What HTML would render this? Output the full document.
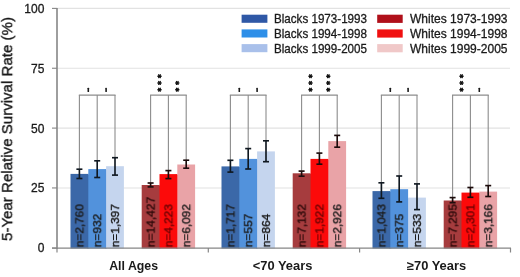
<!DOCTYPE html>
<html><head><meta charset="utf-8"><style>html,body{margin:0;padding:0;background:#fff;width:520px;height:277px;overflow:hidden}</style></head>
<body>
<svg width="520" height="277" viewBox="0 0 520 277" style="display:block">
<rect width="520" height="277" fill="#fff"/>
<line x1="57" y1="187.95" x2="510" y2="187.95" stroke="#e2e2e2" stroke-width="1.1"/>
<line x1="57" y1="128.1" x2="510" y2="128.1" stroke="#e2e2e2" stroke-width="1.1"/>
<line x1="57" y1="68.25" x2="510" y2="68.25" stroke="#e2e2e2" stroke-width="1.1"/>
<line x1="57" y1="8.4" x2="510" y2="8.4" stroke="#e2e2e2" stroke-width="1.1"/>
<rect x="70.50" y="173.9" width="17.8" height="74.60" fill="#3b68a8"/>
<rect x="87.30" y="174.50" width="2" height="74.00" fill="#3b68a8"/>
<rect x="88.30" y="169.1" width="17.8" height="79.40" fill="#5292dc"/>
<rect x="105.10" y="169.70" width="2" height="78.80" fill="#5292dc"/>
<rect x="106.10" y="166.2" width="17.8" height="82.30" fill="#c5d5ee"/>
<rect x="141.70" y="185.0" width="17.8" height="63.50" fill="#a63c3e"/>
<rect x="158.50" y="185.60" width="2" height="62.90" fill="#a63c3e"/>
<rect x="159.50" y="174.1" width="17.8" height="74.40" fill="#fc0a0a"/>
<rect x="176.30" y="174.70" width="2" height="73.80" fill="#fc0a0a"/>
<rect x="177.30" y="164.5" width="17.8" height="84.00" fill="#e9a3a7"/>
<rect x="221.50" y="166.4" width="17.8" height="82.10" fill="#3b68a8"/>
<rect x="238.30" y="167.00" width="2" height="81.50" fill="#3b68a8"/>
<rect x="239.30" y="158.9" width="17.8" height="89.60" fill="#5292dc"/>
<rect x="256.10" y="159.50" width="2" height="89.00" fill="#5292dc"/>
<rect x="257.10" y="151.4" width="17.8" height="97.10" fill="#c5d5ee"/>
<rect x="292.70" y="173.3" width="17.8" height="75.20" fill="#a63c3e"/>
<rect x="309.50" y="173.90" width="2" height="74.60" fill="#a63c3e"/>
<rect x="310.50" y="158.9" width="17.8" height="89.60" fill="#fc0a0a"/>
<rect x="327.30" y="159.50" width="2" height="89.00" fill="#fc0a0a"/>
<rect x="328.30" y="141.1" width="17.8" height="107.40" fill="#e9a3a7"/>
<rect x="372.50" y="191.1" width="17.8" height="57.40" fill="#3b68a8"/>
<rect x="389.30" y="191.70" width="2" height="56.80" fill="#3b68a8"/>
<rect x="390.30" y="189.2" width="17.8" height="59.30" fill="#5292dc"/>
<rect x="407.10" y="198.20" width="2" height="50.30" fill="#5292dc"/>
<rect x="408.10" y="197.6" width="17.8" height="50.90" fill="#c5d5ee"/>
<rect x="443.70" y="200.5" width="17.8" height="48.00" fill="#a63c3e"/>
<rect x="460.50" y="201.10" width="2" height="47.40" fill="#a63c3e"/>
<rect x="461.50" y="192.6" width="17.8" height="55.90" fill="#fc0a0a"/>
<rect x="478.30" y="193.20" width="2" height="55.30" fill="#fc0a0a"/>
<rect x="479.30" y="191.6" width="17.8" height="56.90" fill="#e9a3a7"/>
<text style="will-change:transform" transform="translate(83.40,247.2) rotate(-90)" font-family='"Liberation Sans", sans-serif' font-size="11.4" fill="#1a1a1a" stroke="#1a1a1a" stroke-width="0.4" textLength="43.0" lengthAdjust="spacingAndGlyphs">n=2,760</text>
<text style="will-change:transform" transform="translate(101.20,247.2) rotate(-90)" font-family='"Liberation Sans", sans-serif' font-size="11.4" fill="#1a1a1a" stroke="#1a1a1a" stroke-width="0.4" textLength="33.4" lengthAdjust="spacingAndGlyphs">n=932</text>
<text style="will-change:transform" transform="translate(119.00,247.2) rotate(-90)" font-family='"Liberation Sans", sans-serif' font-size="11.4" fill="#1a1a1a" stroke="#1a1a1a" stroke-width="0.4" textLength="43.0" lengthAdjust="spacingAndGlyphs">n=1,397</text>
<text style="will-change:transform" transform="translate(154.60,247.2) rotate(-90)" font-family='"Liberation Sans", sans-serif' font-size="11.4" fill="#2a0808" stroke="#2a0808" stroke-width="0.4" textLength="50.4" lengthAdjust="spacingAndGlyphs">n=14,427</text>
<text style="will-change:transform" transform="translate(172.40,247.2) rotate(-90)" font-family='"Liberation Sans", sans-serif' font-size="11.4" fill="#6a0000" stroke="#6a0000" stroke-width="0.4" textLength="43.0" lengthAdjust="spacingAndGlyphs">n=4,223</text>
<text style="will-change:transform" transform="translate(190.20,247.2) rotate(-90)" font-family='"Liberation Sans", sans-serif' font-size="11.4" fill="#1a1a1a" stroke="#1a1a1a" stroke-width="0.4" textLength="43.0" lengthAdjust="spacingAndGlyphs">n=6,092</text>
<text style="will-change:transform" transform="translate(234.40,247.2) rotate(-90)" font-family='"Liberation Sans", sans-serif' font-size="11.4" fill="#1a1a1a" stroke="#1a1a1a" stroke-width="0.4" textLength="43.0" lengthAdjust="spacingAndGlyphs">n=1,717</text>
<text style="will-change:transform" transform="translate(252.20,247.2) rotate(-90)" font-family='"Liberation Sans", sans-serif' font-size="11.4" fill="#1a1a1a" stroke="#1a1a1a" stroke-width="0.4" textLength="33.4" lengthAdjust="spacingAndGlyphs">n=557</text>
<text style="will-change:transform" transform="translate(270.00,247.2) rotate(-90)" font-family='"Liberation Sans", sans-serif' font-size="11.4" fill="#1a1a1a" stroke="#1a1a1a" stroke-width="0.4" textLength="33.4" lengthAdjust="spacingAndGlyphs">n=864</text>
<text style="will-change:transform" transform="translate(305.60,247.2) rotate(-90)" font-family='"Liberation Sans", sans-serif' font-size="11.4" fill="#2a0808" stroke="#2a0808" stroke-width="0.4" textLength="43.0" lengthAdjust="spacingAndGlyphs">n=7,132</text>
<text style="will-change:transform" transform="translate(323.40,247.2) rotate(-90)" font-family='"Liberation Sans", sans-serif' font-size="11.4" fill="#6a0000" stroke="#6a0000" stroke-width="0.4" textLength="43.0" lengthAdjust="spacingAndGlyphs">n=1,922</text>
<text style="will-change:transform" transform="translate(341.20,247.2) rotate(-90)" font-family='"Liberation Sans", sans-serif' font-size="11.4" fill="#1a1a1a" stroke="#1a1a1a" stroke-width="0.4" textLength="43.0" lengthAdjust="spacingAndGlyphs">n=2,926</text>
<text style="will-change:transform" transform="translate(385.40,247.2) rotate(-90)" font-family='"Liberation Sans", sans-serif' font-size="11.4" fill="#1a1a1a" stroke="#1a1a1a" stroke-width="0.4" textLength="43.0" lengthAdjust="spacingAndGlyphs">n=1,043</text>
<text style="will-change:transform" transform="translate(403.20,247.2) rotate(-90)" font-family='"Liberation Sans", sans-serif' font-size="11.4" fill="#1a1a1a" stroke="#1a1a1a" stroke-width="0.4" textLength="33.4" lengthAdjust="spacingAndGlyphs">n=375</text>
<text style="will-change:transform" transform="translate(421.00,247.2) rotate(-90)" font-family='"Liberation Sans", sans-serif' font-size="11.4" fill="#1a1a1a" stroke="#1a1a1a" stroke-width="0.4" textLength="33.4" lengthAdjust="spacingAndGlyphs">n=533</text>
<text style="will-change:transform" transform="translate(456.60,247.2) rotate(-90)" font-family='"Liberation Sans", sans-serif' font-size="11.4" fill="#2a0808" stroke="#2a0808" stroke-width="0.4" textLength="43.0" lengthAdjust="spacingAndGlyphs">n=7,295</text>
<text style="will-change:transform" transform="translate(474.40,247.2) rotate(-90)" font-family='"Liberation Sans", sans-serif' font-size="11.4" fill="#6a0000" stroke="#6a0000" stroke-width="0.4" textLength="43.0" lengthAdjust="spacingAndGlyphs">n=2,301</text>
<text style="will-change:transform" transform="translate(492.20,247.2) rotate(-90)" font-family='"Liberation Sans", sans-serif' font-size="11.4" fill="#1a1a1a" stroke="#1a1a1a" stroke-width="0.4" textLength="43.0" lengthAdjust="spacingAndGlyphs">n=3,166</text>
<line x1="79.40" y1="95.1" x2="79.40" y2="169.2" stroke="#8c8c8c" stroke-width="1.1"/>
<line x1="79.40" y1="169.2" x2="79.40" y2="178.5" stroke="#101820" stroke-width="1.65"/>
<line x1="76.40" y1="169.2" x2="82.40" y2="169.2" stroke="#101820" stroke-width="1.65"/>
<line x1="76.40" y1="178.5" x2="82.40" y2="178.5" stroke="#101820" stroke-width="1.65"/>
<line x1="97.20" y1="95.1" x2="97.20" y2="160.8" stroke="#8c8c8c" stroke-width="1.1"/>
<line x1="97.20" y1="160.8" x2="97.20" y2="177.5" stroke="#101820" stroke-width="1.65"/>
<line x1="94.20" y1="160.8" x2="100.20" y2="160.8" stroke="#101820" stroke-width="1.65"/>
<line x1="94.20" y1="177.5" x2="100.20" y2="177.5" stroke="#101820" stroke-width="1.65"/>
<line x1="115.00" y1="95.1" x2="115.00" y2="157.7" stroke="#8c8c8c" stroke-width="1.1"/>
<line x1="115.00" y1="157.7" x2="115.00" y2="175.1" stroke="#101820" stroke-width="1.65"/>
<line x1="112.00" y1="157.7" x2="118.00" y2="157.7" stroke="#101820" stroke-width="1.65"/>
<line x1="112.00" y1="175.1" x2="118.00" y2="175.1" stroke="#101820" stroke-width="1.65"/>
<line x1="78.85" y1="95.1" x2="115.55" y2="95.1" stroke="#8c8c8c" stroke-width="1.1"/>
<rect x="87.50" y="87.7" width="1.6" height="4.3" rx="0.6" fill="#1a1a1a"/>
<rect x="105.30" y="87.7" width="1.6" height="4.3" rx="0.6" fill="#1a1a1a"/>
<line x1="150.60" y1="95.1" x2="150.60" y2="183.0" stroke="#8c8c8c" stroke-width="1.1"/>
<line x1="150.60" y1="183.0" x2="150.60" y2="186.9" stroke="#1c0c0c" stroke-width="1.65"/>
<line x1="147.60" y1="183.0" x2="153.60" y2="183.0" stroke="#1c0c0c" stroke-width="1.65"/>
<line x1="147.60" y1="186.9" x2="153.60" y2="186.9" stroke="#1c0c0c" stroke-width="1.65"/>
<line x1="168.40" y1="95.1" x2="168.40" y2="170.6" stroke="#8c8c8c" stroke-width="1.1"/>
<line x1="168.40" y1="170.6" x2="168.40" y2="178.6" stroke="#1c0c0c" stroke-width="1.65"/>
<line x1="165.40" y1="170.6" x2="171.40" y2="170.6" stroke="#1c0c0c" stroke-width="1.65"/>
<line x1="165.40" y1="178.6" x2="171.40" y2="178.6" stroke="#1c0c0c" stroke-width="1.65"/>
<line x1="186.20" y1="95.1" x2="186.20" y2="160.2" stroke="#8c8c8c" stroke-width="1.1"/>
<line x1="186.20" y1="160.2" x2="186.20" y2="168.2" stroke="#1c0c0c" stroke-width="1.65"/>
<line x1="183.20" y1="160.2" x2="189.20" y2="160.2" stroke="#1c0c0c" stroke-width="1.65"/>
<line x1="183.20" y1="168.2" x2="189.20" y2="168.2" stroke="#1c0c0c" stroke-width="1.65"/>
<line x1="150.05" y1="95.1" x2="186.75" y2="95.1" stroke="#8c8c8c" stroke-width="1.1"/>
<line x1="157.90" y1="89.70" x2="161.10" y2="89.70" stroke="#111" stroke-width="1.35" stroke-linecap="round"/>
<line x1="158.70" y1="88.31" x2="160.30" y2="91.09" stroke="#111" stroke-width="1.35" stroke-linecap="round"/>
<line x1="160.30" y1="88.31" x2="158.70" y2="91.09" stroke="#111" stroke-width="1.35" stroke-linecap="round"/>
<line x1="157.90" y1="82.95" x2="161.10" y2="82.95" stroke="#111" stroke-width="1.35" stroke-linecap="round"/>
<line x1="158.70" y1="81.56" x2="160.30" y2="84.34" stroke="#111" stroke-width="1.35" stroke-linecap="round"/>
<line x1="160.30" y1="81.56" x2="158.70" y2="84.34" stroke="#111" stroke-width="1.35" stroke-linecap="round"/>
<line x1="157.90" y1="76.20" x2="161.10" y2="76.20" stroke="#111" stroke-width="1.35" stroke-linecap="round"/>
<line x1="158.70" y1="74.81" x2="160.30" y2="77.59" stroke="#111" stroke-width="1.35" stroke-linecap="round"/>
<line x1="160.30" y1="74.81" x2="158.70" y2="77.59" stroke="#111" stroke-width="1.35" stroke-linecap="round"/>
<line x1="175.70" y1="89.70" x2="178.90" y2="89.70" stroke="#111" stroke-width="1.35" stroke-linecap="round"/>
<line x1="176.50" y1="88.31" x2="178.10" y2="91.09" stroke="#111" stroke-width="1.35" stroke-linecap="round"/>
<line x1="178.10" y1="88.31" x2="176.50" y2="91.09" stroke="#111" stroke-width="1.35" stroke-linecap="round"/>
<line x1="175.70" y1="82.95" x2="178.90" y2="82.95" stroke="#111" stroke-width="1.35" stroke-linecap="round"/>
<line x1="176.50" y1="81.56" x2="178.10" y2="84.34" stroke="#111" stroke-width="1.35" stroke-linecap="round"/>
<line x1="178.10" y1="81.56" x2="176.50" y2="84.34" stroke="#111" stroke-width="1.35" stroke-linecap="round"/>
<line x1="230.40" y1="95.1" x2="230.40" y2="160.3" stroke="#8c8c8c" stroke-width="1.1"/>
<line x1="230.40" y1="160.3" x2="230.40" y2="172.1" stroke="#101820" stroke-width="1.65"/>
<line x1="227.40" y1="160.3" x2="233.40" y2="160.3" stroke="#101820" stroke-width="1.65"/>
<line x1="227.40" y1="172.1" x2="233.40" y2="172.1" stroke="#101820" stroke-width="1.65"/>
<line x1="248.20" y1="95.1" x2="248.20" y2="148.6" stroke="#8c8c8c" stroke-width="1.1"/>
<line x1="248.20" y1="148.6" x2="248.20" y2="169.0" stroke="#101820" stroke-width="1.65"/>
<line x1="245.20" y1="148.6" x2="251.20" y2="148.6" stroke="#101820" stroke-width="1.65"/>
<line x1="245.20" y1="169.0" x2="251.20" y2="169.0" stroke="#101820" stroke-width="1.65"/>
<line x1="266.00" y1="95.1" x2="266.00" y2="140.8" stroke="#8c8c8c" stroke-width="1.1"/>
<line x1="266.00" y1="140.8" x2="266.00" y2="161.7" stroke="#101820" stroke-width="1.65"/>
<line x1="263.00" y1="140.8" x2="269.00" y2="140.8" stroke="#101820" stroke-width="1.65"/>
<line x1="263.00" y1="161.7" x2="269.00" y2="161.7" stroke="#101820" stroke-width="1.65"/>
<line x1="229.85" y1="95.1" x2="266.55" y2="95.1" stroke="#8c8c8c" stroke-width="1.1"/>
<rect x="238.50" y="87.7" width="1.6" height="4.3" rx="0.6" fill="#1a1a1a"/>
<rect x="256.30" y="87.7" width="1.6" height="4.3" rx="0.6" fill="#1a1a1a"/>
<line x1="301.60" y1="95.1" x2="301.60" y2="171.1" stroke="#8c8c8c" stroke-width="1.1"/>
<line x1="301.60" y1="171.1" x2="301.60" y2="176.2" stroke="#1c0c0c" stroke-width="1.65"/>
<line x1="298.60" y1="171.1" x2="304.60" y2="171.1" stroke="#1c0c0c" stroke-width="1.65"/>
<line x1="298.60" y1="176.2" x2="304.60" y2="176.2" stroke="#1c0c0c" stroke-width="1.65"/>
<line x1="319.40" y1="95.1" x2="319.40" y2="153.1" stroke="#8c8c8c" stroke-width="1.1"/>
<line x1="319.40" y1="153.1" x2="319.40" y2="164.2" stroke="#1c0c0c" stroke-width="1.65"/>
<line x1="316.40" y1="153.1" x2="322.40" y2="153.1" stroke="#1c0c0c" stroke-width="1.65"/>
<line x1="316.40" y1="164.2" x2="322.40" y2="164.2" stroke="#1c0c0c" stroke-width="1.65"/>
<line x1="337.20" y1="95.1" x2="337.20" y2="135.4" stroke="#8c8c8c" stroke-width="1.1"/>
<line x1="337.20" y1="135.4" x2="337.20" y2="147.2" stroke="#1c0c0c" stroke-width="1.65"/>
<line x1="334.20" y1="135.4" x2="340.20" y2="135.4" stroke="#1c0c0c" stroke-width="1.65"/>
<line x1="334.20" y1="147.2" x2="340.20" y2="147.2" stroke="#1c0c0c" stroke-width="1.65"/>
<line x1="301.05" y1="95.1" x2="337.75" y2="95.1" stroke="#8c8c8c" stroke-width="1.1"/>
<line x1="308.90" y1="89.70" x2="312.10" y2="89.70" stroke="#111" stroke-width="1.35" stroke-linecap="round"/>
<line x1="309.70" y1="88.31" x2="311.30" y2="91.09" stroke="#111" stroke-width="1.35" stroke-linecap="round"/>
<line x1="311.30" y1="88.31" x2="309.70" y2="91.09" stroke="#111" stroke-width="1.35" stroke-linecap="round"/>
<line x1="308.90" y1="82.95" x2="312.10" y2="82.95" stroke="#111" stroke-width="1.35" stroke-linecap="round"/>
<line x1="309.70" y1="81.56" x2="311.30" y2="84.34" stroke="#111" stroke-width="1.35" stroke-linecap="round"/>
<line x1="311.30" y1="81.56" x2="309.70" y2="84.34" stroke="#111" stroke-width="1.35" stroke-linecap="round"/>
<line x1="308.90" y1="76.20" x2="312.10" y2="76.20" stroke="#111" stroke-width="1.35" stroke-linecap="round"/>
<line x1="309.70" y1="74.81" x2="311.30" y2="77.59" stroke="#111" stroke-width="1.35" stroke-linecap="round"/>
<line x1="311.30" y1="74.81" x2="309.70" y2="77.59" stroke="#111" stroke-width="1.35" stroke-linecap="round"/>
<line x1="326.70" y1="89.70" x2="329.90" y2="89.70" stroke="#111" stroke-width="1.35" stroke-linecap="round"/>
<line x1="327.50" y1="88.31" x2="329.10" y2="91.09" stroke="#111" stroke-width="1.35" stroke-linecap="round"/>
<line x1="329.10" y1="88.31" x2="327.50" y2="91.09" stroke="#111" stroke-width="1.35" stroke-linecap="round"/>
<line x1="326.70" y1="82.95" x2="329.90" y2="82.95" stroke="#111" stroke-width="1.35" stroke-linecap="round"/>
<line x1="327.50" y1="81.56" x2="329.10" y2="84.34" stroke="#111" stroke-width="1.35" stroke-linecap="round"/>
<line x1="329.10" y1="81.56" x2="327.50" y2="84.34" stroke="#111" stroke-width="1.35" stroke-linecap="round"/>
<line x1="326.70" y1="76.20" x2="329.90" y2="76.20" stroke="#111" stroke-width="1.35" stroke-linecap="round"/>
<line x1="327.50" y1="74.81" x2="329.10" y2="77.59" stroke="#111" stroke-width="1.35" stroke-linecap="round"/>
<line x1="329.10" y1="74.81" x2="327.50" y2="77.59" stroke="#111" stroke-width="1.35" stroke-linecap="round"/>
<line x1="381.40" y1="95.1" x2="381.40" y2="182.8" stroke="#8c8c8c" stroke-width="1.1"/>
<line x1="381.40" y1="182.8" x2="381.40" y2="198.3" stroke="#101820" stroke-width="1.65"/>
<line x1="378.40" y1="182.8" x2="384.40" y2="182.8" stroke="#101820" stroke-width="1.65"/>
<line x1="378.40" y1="198.3" x2="384.40" y2="198.3" stroke="#101820" stroke-width="1.65"/>
<line x1="399.20" y1="95.1" x2="399.20" y2="176.0" stroke="#8c8c8c" stroke-width="1.1"/>
<line x1="399.20" y1="176.0" x2="399.20" y2="201.9" stroke="#101820" stroke-width="1.65"/>
<line x1="396.20" y1="176.0" x2="402.20" y2="176.0" stroke="#101820" stroke-width="1.65"/>
<line x1="396.20" y1="201.9" x2="402.20" y2="201.9" stroke="#101820" stroke-width="1.65"/>
<line x1="417.00" y1="95.1" x2="417.00" y2="183.9" stroke="#8c8c8c" stroke-width="1.1"/>
<line x1="417.00" y1="183.9" x2="417.00" y2="209.6" stroke="#101820" stroke-width="1.65"/>
<line x1="414.00" y1="183.9" x2="420.00" y2="183.9" stroke="#101820" stroke-width="1.65"/>
<line x1="414.00" y1="209.6" x2="420.00" y2="209.6" stroke="#101820" stroke-width="1.65"/>
<line x1="380.85" y1="95.1" x2="417.55" y2="95.1" stroke="#8c8c8c" stroke-width="1.1"/>
<rect x="389.50" y="87.7" width="1.6" height="4.3" rx="0.6" fill="#1a1a1a"/>
<rect x="407.30" y="87.7" width="1.6" height="4.3" rx="0.6" fill="#1a1a1a"/>
<line x1="452.60" y1="95.1" x2="452.60" y2="197.6" stroke="#8c8c8c" stroke-width="1.1"/>
<line x1="452.60" y1="197.6" x2="452.60" y2="202.7" stroke="#1c0c0c" stroke-width="1.65"/>
<line x1="449.60" y1="197.6" x2="455.60" y2="197.6" stroke="#1c0c0c" stroke-width="1.65"/>
<line x1="449.60" y1="202.7" x2="455.60" y2="202.7" stroke="#1c0c0c" stroke-width="1.65"/>
<line x1="470.40" y1="95.1" x2="470.40" y2="187.5" stroke="#8c8c8c" stroke-width="1.1"/>
<line x1="470.40" y1="187.5" x2="470.40" y2="197.3" stroke="#1c0c0c" stroke-width="1.65"/>
<line x1="467.40" y1="187.5" x2="473.40" y2="187.5" stroke="#1c0c0c" stroke-width="1.65"/>
<line x1="467.40" y1="197.3" x2="473.40" y2="197.3" stroke="#1c0c0c" stroke-width="1.65"/>
<line x1="488.20" y1="95.1" x2="488.20" y2="185.6" stroke="#8c8c8c" stroke-width="1.1"/>
<line x1="488.20" y1="185.6" x2="488.20" y2="196.5" stroke="#1c0c0c" stroke-width="1.65"/>
<line x1="485.20" y1="185.6" x2="491.20" y2="185.6" stroke="#1c0c0c" stroke-width="1.65"/>
<line x1="485.20" y1="196.5" x2="491.20" y2="196.5" stroke="#1c0c0c" stroke-width="1.65"/>
<line x1="452.05" y1="95.1" x2="488.75" y2="95.1" stroke="#8c8c8c" stroke-width="1.1"/>
<line x1="459.90" y1="89.70" x2="463.10" y2="89.70" stroke="#111" stroke-width="1.35" stroke-linecap="round"/>
<line x1="460.70" y1="88.31" x2="462.30" y2="91.09" stroke="#111" stroke-width="1.35" stroke-linecap="round"/>
<line x1="462.30" y1="88.31" x2="460.70" y2="91.09" stroke="#111" stroke-width="1.35" stroke-linecap="round"/>
<line x1="459.90" y1="82.95" x2="463.10" y2="82.95" stroke="#111" stroke-width="1.35" stroke-linecap="round"/>
<line x1="460.70" y1="81.56" x2="462.30" y2="84.34" stroke="#111" stroke-width="1.35" stroke-linecap="round"/>
<line x1="462.30" y1="81.56" x2="460.70" y2="84.34" stroke="#111" stroke-width="1.35" stroke-linecap="round"/>
<line x1="459.90" y1="76.20" x2="463.10" y2="76.20" stroke="#111" stroke-width="1.35" stroke-linecap="round"/>
<line x1="460.70" y1="74.81" x2="462.30" y2="77.59" stroke="#111" stroke-width="1.35" stroke-linecap="round"/>
<line x1="462.30" y1="74.81" x2="460.70" y2="77.59" stroke="#111" stroke-width="1.35" stroke-linecap="round"/>
<rect x="478.50" y="87.7" width="1.6" height="4.3" rx="0.6" fill="#1a1a1a"/>
<line x1="57" y1="8" x2="57" y2="249" stroke="#868686" stroke-width="1.6"/>
<line x1="52" y1="248.05" x2="57" y2="248.05" stroke="#868686" stroke-width="1.1"/>
<line x1="52" y1="187.95" x2="57" y2="187.95" stroke="#868686" stroke-width="1.1"/>
<line x1="52" y1="128.1" x2="57" y2="128.1" stroke="#868686" stroke-width="1.1"/>
<line x1="52" y1="68.25" x2="57" y2="68.25" stroke="#868686" stroke-width="1.1"/>
<line x1="52" y1="8.4" x2="57" y2="8.4" stroke="#868686" stroke-width="1.1"/>
<line x1="52" y1="248.05" x2="511" y2="248.05" stroke="#868686" stroke-width="1.2"/>
<line x1="57" y1="248" x2="57" y2="252.5" stroke="#868686" stroke-width="1.2"/>
<line x1="208.3" y1="248" x2="208.3" y2="252.5" stroke="#868686" stroke-width="1.2"/>
<line x1="359.6" y1="248" x2="359.6" y2="252.5" stroke="#868686" stroke-width="1.2"/>
<line x1="510.5" y1="248" x2="510.5" y2="252.5" stroke="#868686" stroke-width="1.2"/>
<text style="will-change:transform" x="44.4" y="251.85" text-anchor="end" font-family='"Liberation Sans", sans-serif' font-size="12" fill="#1a1a1a" stroke="#1a1a1a" stroke-width="0.3">0</text>
<text style="will-change:transform" x="44.4" y="192.45" text-anchor="end" font-family='"Liberation Sans", sans-serif' font-size="12" fill="#1a1a1a" stroke="#1a1a1a" stroke-width="0.3">25</text>
<text style="will-change:transform" x="44.4" y="132.60" text-anchor="end" font-family='"Liberation Sans", sans-serif' font-size="12" fill="#1a1a1a" stroke="#1a1a1a" stroke-width="0.3">50</text>
<text style="will-change:transform" x="44.4" y="72.75" text-anchor="end" font-family='"Liberation Sans", sans-serif' font-size="12" fill="#1a1a1a" stroke="#1a1a1a" stroke-width="0.3">75</text>
<text style="will-change:transform" x="44.4" y="12.90" text-anchor="end" font-family='"Liberation Sans", sans-serif' font-size="12" fill="#1a1a1a" stroke="#1a1a1a" stroke-width="0.3">100</text>
<text style="will-change:transform" transform="translate(12.2,241) rotate(-90)" font-family='"Liberation Sans", sans-serif' font-size="14.4" fill="#1a1a1a" stroke="#1a1a1a" stroke-width="0.35" textLength="224" lengthAdjust="spacingAndGlyphs">5-Year Relative Survival Rate (%)</text>
<text style="will-change:transform" x="109.2" y="269.9" font-family='"Liberation Sans", sans-serif' font-weight="bold" font-size="12.6" fill="#1a1a1a" textLength="48.9" lengthAdjust="spacingAndGlyphs">All Ages</text>
<text style="will-change:transform" x="252.7" y="269.9" font-family='"Liberation Sans", sans-serif' font-weight="bold" font-size="12.6" fill="#1a1a1a" textLength="59.7" lengthAdjust="spacingAndGlyphs">&lt;70 Years</text>
<text style="will-change:transform" x="406.9" y="269.9" font-family='"Liberation Sans", sans-serif' font-weight="bold" font-size="12.6" fill="#1a1a1a" textLength="59.3" lengthAdjust="spacingAndGlyphs">≥70 Years</text>
<rect x="241.6" y="14.7" width="25.8" height="8.1" fill="#2f58a6"/>
<text style="will-change:transform" x="274" y="23.3" font-family='"Liberation Sans", sans-serif' font-size="12.1" fill="#1a1a1a" stroke="#1a1a1a" stroke-width="0.3" textLength="93" lengthAdjust="spacingAndGlyphs">Blacks 1973-1993</text>
<rect x="377.2" y="14.7" width="25.5" height="8.2" fill="#b0101a"/>
<text style="will-change:transform" x="410" y="23.3" font-family='"Liberation Sans", sans-serif' font-size="12.1" fill="#1a1a1a" stroke="#1a1a1a" stroke-width="0.3" textLength="97.5" lengthAdjust="spacingAndGlyphs">Whites 1973-1993</text>
<rect x="241.6" y="29.4" width="25.8" height="8.1" fill="#2e8fe8"/>
<text style="will-change:transform" x="274" y="38.0" font-family='"Liberation Sans", sans-serif' font-size="12.1" fill="#1a1a1a" stroke="#1a1a1a" stroke-width="0.3" textLength="93" lengthAdjust="spacingAndGlyphs">Blacks 1994-1998</text>
<rect x="377.2" y="29.4" width="25.5" height="8.2" fill="#f01010"/>
<text style="will-change:transform" x="410" y="38.0" font-family='"Liberation Sans", sans-serif' font-size="12.1" fill="#1a1a1a" stroke="#1a1a1a" stroke-width="0.3" textLength="97.5" lengthAdjust="spacingAndGlyphs">Whites 1994-1998</text>
<rect x="241.6" y="44.1" width="25.8" height="8.1" fill="#a9c0ea"/>
<text style="will-change:transform" x="274" y="52.7" font-family='"Liberation Sans", sans-serif' font-size="12.1" fill="#1a1a1a" stroke="#1a1a1a" stroke-width="0.3" textLength="93" lengthAdjust="spacingAndGlyphs">Blacks 1999-2005</text>
<rect x="377.2" y="44.1" width="25.5" height="8.2" fill="#f0c8c8"/>
<text style="will-change:transform" x="410" y="52.7" font-family='"Liberation Sans", sans-serif' font-size="12.1" fill="#1a1a1a" stroke="#1a1a1a" stroke-width="0.3" textLength="97.5" lengthAdjust="spacingAndGlyphs">Whites 1999-2005</text>
</svg>
</body></html>
